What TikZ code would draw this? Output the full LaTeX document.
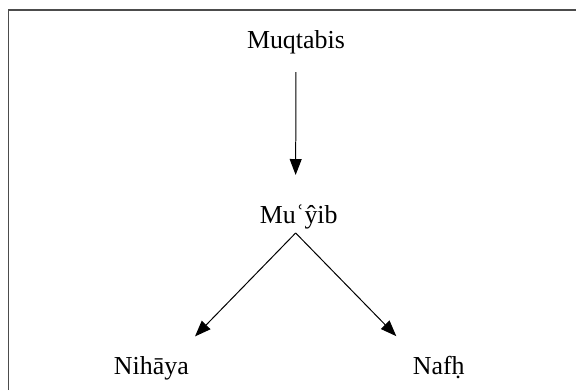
\documentclass[tikz,border=0pt]{standalone}
\usepackage{fontspec}
\setmainfont{Liberation Serif}
\usepackage{tikz}
\usetikzlibrary{calc,positioning}
\usetikzlibrary{arrows.meta}

\begin{document}
\begin{tikzpicture}
      \tikzstyle{tnode} = [inner sep = 0pt, anchor = base, font=\fontsize{13}{15}\selectfont]
      \tikzstyle{arr} = [line width = 0.5pt, -{Triangle[length=8pt, width=6pt]}]
      \tikzstyle{frame} = [line width = 0.6pt, draw=black!70]

      \useasboundingbox (0, 0) rectangle (10.16, 6.88);
      \draw[frame] (0.146, 0) |- (10.16, 6.702);

      \node[tnode] (muq) at (5.22, 6.03) {Muqtabis};
      \node[tnode] (muy) at (5.27, 2.946) {Muʿŷib};
      \node[tnode] (nih) at (2.67, 0.282) {Nihāya};
      \node[tnode] (naf) at (7.74, 0.282) {Nafḥ};
      % connections

      \draw[arr] ([yshift=-0.32cm]muq.south) -- ([xshift=-0.055cm, yshift=0.51cm]muy.north);
      \draw[arr] ([xshift=-0.055cm, yshift=-0.07cm]muy.south) -- ([xshift=0.77cm, yshift=0.34cm]nih.north);
      \draw[arr] ([xshift=-0.055cm, yshift=-0.07cm]muy.south) -- ([xshift=-0.75cm, yshift=0.34cm]naf.north);
\end{tikzpicture}
\end{document}
